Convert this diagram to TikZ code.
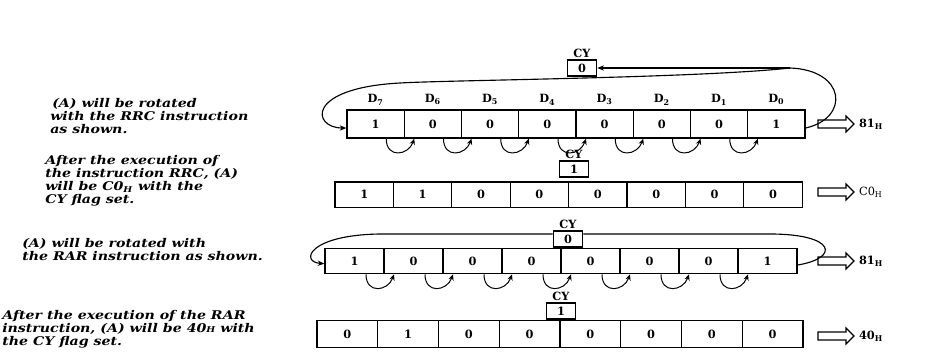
\documentclass[tikz,border=0pt]{standalone}
\usepackage{fontspec}
\setmainfont{DejaVu Serif}
\newfontfamily\notefont[FakeStretch=1.18]{DejaVu Serif}
\usetikzlibrary{arrows.meta,positioning,shapes.arrows}

\begin{document}
\begin{tikzpicture}[
  x=0.75pt, y=-0.75pt,
  font=\notefont\bfseries\itshape\fontsize{9}{9.75}\selectfont,
  cell/.style={draw, line width=1pt, minimum height=19pt, inner sep=0pt, font=\bfseries\fontsize{8.5}{9}\selectfont},
  cybox/.style={draw, line width=1pt, minimum width=22pt, minimum height=12pt, inner sep=0pt, font=\bfseries\fontsize{8.5}{9}\selectfont},
  cytag/.style={inner sep=0.5pt, font=\bfseries\fontsize{8.5}{9}\selectfont},
  note/.style={align=left, inner sep=0pt, anchor=west},
  hop/.style={-{Stealth[length=4.5pt,width=4pt]}, line width=0.75pt},
  loop/.style={line width=0.85pt},
  tip/.style={-{Stealth[length=5pt,width=4pt]}},
  fat/.style={single arrow, draw, line width=0.9pt, minimum height=27pt, minimum width=11pt,
    single arrow head extend=3pt, inner xsep=0pt, inner ysep=2.5pt},
  val/.style={inner sep=0pt, anchor=west, font=\bfseries\fontsize{8.5}{9}\selectfont}
]
\useasboundingbox (0,0) rectangle (927,354);

% row a: before RRC
\foreach \b [count=\k from 0] in {1,0,0,0,0,0,0,1}
  \node[cell, minimum width=42.9pt, minimum height=21pt] (a\k) at ({347+(\k+0.5)*57.25},124) {\b};
\foreach \k in {0,...,7} {
  \pgfmathtruncatemacro\d{7-\k}
  \node[cytag, above=2.5pt of a\k] (ad\k) {D\textsubscript{\d}};
}
\foreach \k [evaluate=\k as \n using int(\k+1)] in {0,...,6}
  \draw[hop] ([xshift=-14pt]a\k.south east) .. controls +(0,20) and +(-6,17) .. ([xshift=8pt]a\n.south west);
\node[cybox] (acy) at (582,68) {0};
\node[cytag, above=0.5pt of acy] (acyt) {CY};
\coordinate (aj) at (790,68);
\draw[loop] ([yshift=-3pt]a7.east) .. controls (850,118) and (846,70) .. (aj);
\draw[loop, tip] (aj) -- (acy.east);
\draw[loop, tip] (aj) .. controls (700,78) and (450,80) .. (400,83)
  .. controls (305,88) and (312,128) .. ([yshift=-3pt]a0.west);
\node[fat] (aarr) at (834,124) {};
\node[val, right=3pt of aarr] (aval) {81\textsubscript{H}};

% row b: after RRC
\foreach \b [count=\k from 0] in {1,1,0,0,0,0,0,0}
  \node[cell, minimum width=43.8pt] (b\k) at ({335+(\k+0.5)*58.4},194.5) {\b};
\node[cybox] (bcy) at (574,169) {1};
\node[cytag, above=0.5pt of bcy] (bcyt) {CY};
\node[fat] (barr) at (834,192) {};
\node[val, right=3pt of barr, font=\fontsize{8.5}{9}\selectfont] (bval) {C0\textsubscript{H}};

% row c: before RAR
\foreach \b [count=\k from 0] in {1,0,0,0,0,0,0,1}
  \node[cell, minimum width=44.25pt] (c\k) at ({325+(\k+0.5)*59},261) {\b};
\foreach \k [evaluate=\k as \n using int(\k+1)] in {0,...,6}
  \draw[hop] ([xshift=-14pt]c\k.south east) .. controls +(0,20) and +(-6,17) .. ([xshift=8pt]c\n.south west);
\node[cybox] (ccy) at (568,239) {0};
\node[cytag, above=0.5pt of ccy] (ccyt) {CY};
\draw[loop] ([yshift=-3pt]c7.east) .. controls (840,258) and (836,234) .. (770,234) -- (ccy.east |- 0,234);
\draw[loop, tip] (ccy.west |- 0,234) -- (380,234)
  .. controls (308,235) and (300,262) .. ([yshift=-2pt]c0.west);
\node[fat] (carr) at (834,261) {};
\node[val, right=3pt of carr] (cval) {81\textsubscript{H}};

% row d: after RAR
\foreach \b [count=\k from 0] in {0,1,0,0,0,0,0,0}
  \node[cell, minimum width=45.56pt, minimum height=20.25pt] (d\k) at ({317+(\k+0.5)*60.75},334) {\b};
\node[cybox] (dcy) at (561,311) {1};
\node[cytag, above=0.5pt of dcy] (dcyt) {CY};
\node[fat] (darr) at (834,336) {};
\node[val, right=3pt of darr] (dval) {40\textsubscript{H}};

% notes on the left
\node[note] (anote) at (50,116) {\,(A) will be rotated\\ with the RRC instruction\\as shown.};
\node[note] (bnote) at (45,181) {After the execution of\\the instruction RRC, (A)\\will be C0\textsubscript{H} with the\\CY flag set.};
\node[note] (cnote) at (22,250) {(A) will be rotated with\\the RAR instruction as shown.};
\node[note] (dnote) at (2,329) {After the execution of the RAR\\instruction, (A) will be 40{\fontsize{6}{6}\selectfont H} with\\the CY flag set.};
\end{tikzpicture}
\end{document}
